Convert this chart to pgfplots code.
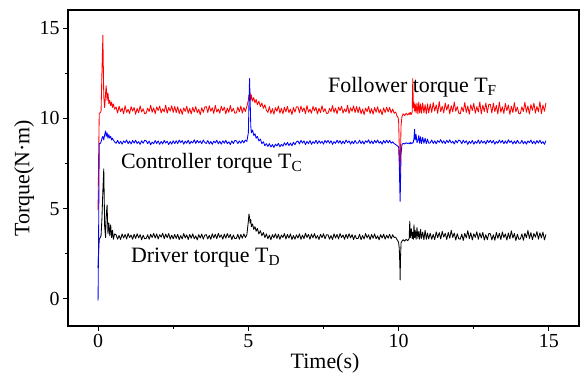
\documentclass[border=0pt]{standalone}
\usepackage{pgfplots}
\pgfplotsset{compat=1.18}
\usepackage{pgfplotstable}
\usepackage{fontspec}
\setmainfont{Liberation Serif}

\pgfplotstableread{
t F C D
0.00 4.9 -0.1 1.7
0.02 8.0 4.0 2.6
0.04 10.3 8.6 3.3
0.07 10.3 8.6 3.4
0.10 10.4 8.7 3.5
0.13 12.6 8.9 4.5
0.16 14.6 9.0 6.0
0.19 11.2 8.8 7.2
0.22 10.6 9.1 4.0
0.25 11.4 9.3 3.4
0.27 11.8 9.0 4.6
0.30 11.0 9.2 5.2
0.33 11.4 8.9 3.6
0.36 10.8 9.1 4.2
0.39 11.0 8.9 3.5
0.42 10.7 9.0 4.1
0.45 10.9 8.8 3.4
0.48 10.6 8.9 3.8
0.51 10.8 8.8 3.3
0.55 10.5 8.7 3.6
0.60 10.63 8.62 3.55
0.65 10.30 8.78 3.31
0.70 10.67 8.59 3.51
0.75 10.37 8.73 3.29
0.80 10.57 8.57 3.60
0.85 10.25 8.75 3.37
0.90 10.70 8.65 3.57
0.95 10.33 8.80 3.32
1.00 10.50 8.60 3.62
1.05 10.27 8.74 3.40
1.10 10.65 8.58 3.54
1.15 10.40 8.77 3.30
1.20 10.60 8.63 3.58
1.25 10.23 8.79 3.35
1.30 10.55 8.61 3.61
1.35 10.31 8.71 3.38
1.40 10.69 8.56 3.56
1.45 10.35 8.76 3.28
1.50 10.53 8.62 3.53
1.55 10.26 8.78 3.33
1.60 10.29 8.76 3.35
1.65 10.56 8.60 3.55
1.70 10.38 8.74 3.30
1.75 10.72 8.54 3.58
1.80 10.34 8.69 3.40
1.85 10.58 8.59 3.63
1.90 10.26 8.77 3.37
1.95 10.63 8.61 3.60
2.00 10.43 8.75 3.32
2.05 10.68 8.56 3.56
2.10 10.30 8.72 3.42
2.15 10.53 8.58 3.64
2.20 10.36 8.78 3.34
2.25 10.73 8.63 3.59
2.30 10.28 8.73 3.39
2.35 10.60 8.55 3.62
2.40 10.40 8.71 3.31
2.45 10.70 8.57 3.53
2.50 10.33 8.76 3.33
2.55 10.66 8.60 3.57
2.60 10.32 8.76 3.35
2.65 10.64 8.60 3.58
2.70 10.26 8.80 3.28
2.75 10.53 8.65 3.51
2.80 10.22 8.77 3.32
2.85 10.58 8.57 3.62
2.90 10.38 8.74 3.38
2.95 10.67 8.62 3.55
3.00 10.28 8.79 3.29
3.05 10.55 8.58 3.57
3.10 10.24 8.73 3.36
3.15 10.61 8.63 3.60
3.20 10.35 8.81 3.33
3.25 10.65 8.61 3.49
3.30 10.31 8.78 3.27
3.35 10.50 8.64 3.56
3.40 10.20 8.75 3.37
3.45 10.59 8.59 3.59
3.50 10.33 8.80 3.31
3.55 10.63 8.66 3.53
3.60 10.65 8.61 3.56
3.65 10.32 8.77 3.32
3.70 10.69 8.58 3.52
3.75 10.39 8.72 3.30
3.80 10.59 8.56 3.61
3.85 10.27 8.74 3.38
3.90 10.72 8.64 3.58
3.95 10.35 8.79 3.33
4.00 10.52 8.59 3.63
4.05 10.29 8.73 3.41
4.10 10.67 8.57 3.55
4.15 10.42 8.76 3.31
4.20 10.62 8.62 3.59
4.25 10.25 8.78 3.36
4.30 10.57 8.60 3.62
4.35 10.33 8.70 3.39
4.40 10.71 8.55 3.57
4.45 10.37 8.75 3.29
4.50 10.55 8.61 3.54
4.55 10.28 8.77 3.34
4.60 10.30 8.76 3.35
4.65 10.62 8.60 3.58
4.70 10.36 8.75 3.30
4.75 10.68 8.62 3.57
4.80 10.29 8.78 3.36
4.85 10.60 8.64 3.60
4.90 10.38 8.80 3.40
4.95 10.66 8.72 3.55
5.00 11.0 9.2 4.3
5.02 11.3 10.8 4.7
5.04 11.1 12.2 4.5
5.06 11.4 11.0 4.2
5.08 11.0 9.6 4.4
5.10 11.3 9.2 4.0
5.14 10.95 9.35 4.15
5.18 11.15 9.05 3.85
5.22 10.85 9.15 4.0
5.26 11.05 8.9 3.75
5.30 10.75 9.0 3.9
5.35 10.95 8.75 3.6
5.40 10.65 8.85 3.78
5.45 10.85 8.6 3.5
5.50 10.55 8.7 3.68
5.55 10.75 8.48 3.4
5.60 10.45 8.6 3.6
5.65 10.33 8.44 3.33
5.70 10.65 8.60 3.53
5.75 10.27 8.41 3.28
5.80 10.54 8.55 3.56
5.85 10.23 8.39 3.38
5.90 10.59 8.57 3.61
5.95 10.39 8.47 3.35
6.00 10.68 8.62 3.58
6.05 10.29 8.42 3.30
6.10 10.56 8.56 3.54
6.15 10.25 8.46 3.40
6.20 10.62 8.65 3.62
6.25 10.36 8.51 3.32
6.30 10.66 8.67 3.57
6.35 10.32 8.49 3.37
6.40 10.51 8.63 3.60
6.45 10.21 8.48 3.29
6.50 10.60 8.68 3.51
6.55 10.34 8.54 3.31
6.60 10.64 8.70 3.55
6.65 10.64 8.74 3.37
6.70 10.31 8.58 3.60
6.75 10.68 8.78 3.30
6.80 10.38 8.63 3.53
6.85 10.58 8.75 3.34
6.90 10.26 8.55 3.64
6.95 10.71 8.72 3.40
7.00 10.34 8.60 3.57
7.05 10.51 8.77 3.31
7.10 10.28 8.56 3.59
7.15 10.66 8.71 3.38
7.20 10.41 8.61 3.62
7.25 10.61 8.79 3.35
7.30 10.24 8.59 3.51
7.35 10.56 8.76 3.29
7.40 10.32 8.62 3.58
7.45 10.70 8.73 3.39
7.50 10.36 8.57 3.61
7.55 10.54 8.78 3.33
7.60 10.27 8.64 3.55
7.65 10.28 8.78 3.55
7.70 10.55 8.62 3.31
7.75 10.37 8.76 3.51
7.80 10.71 8.56 3.29
7.85 10.33 8.71 3.60
7.90 10.57 8.61 3.37
7.95 10.25 8.79 3.57
8.00 10.62 8.63 3.32
8.05 10.42 8.77 3.62
8.10 10.67 8.58 3.40
8.15 10.29 8.74 3.54
8.20 10.52 8.60 3.30
8.25 10.35 8.80 3.58
8.30 10.72 8.65 3.35
8.35 10.27 8.75 3.61
8.40 10.59 8.57 3.38
8.45 10.39 8.73 3.56
8.50 10.69 8.59 3.28
8.55 10.32 8.78 3.53
8.60 10.65 8.62 3.33
8.65 10.31 8.63 3.35
8.70 10.63 8.79 3.58
8.75 10.25 8.60 3.28
8.80 10.52 8.74 3.51
8.85 10.21 8.58 3.32
8.90 10.57 8.76 3.62
8.95 10.37 8.66 3.38
9.00 10.66 8.81 3.55
9.05 10.27 8.61 3.29
9.10 10.54 8.75 3.57
9.15 10.23 8.59 3.36
9.20 10.60 8.78 3.60
9.25 10.34 8.64 3.33
9.30 10.64 8.80 3.49
9.35 10.30 8.62 3.27
9.40 10.49 8.72 3.56
9.45 10.19 8.57 3.37
9.50 10.58 8.77 3.59
9.55 10.32 8.63 3.31
9.60 10.62 8.79 3.53
9.65 10.36 8.64 3.36
9.70 10.60 8.78 3.58
9.75 10.30 8.62 3.33
9.80 10.52 8.70 3.55
9.85 10.28 8.60 3.40
9.90 10.35 8.55 3.42
9.94 10.15 8.50 3.30
9.98 10.05 8.45 3.20
10.00 9.8 8.4 3.1
10.02 8.5 7.5 2.8
10.04 6.5 6.0 1.9
10.05 7.0 5.4 1.05
10.06 8.0 6.3 2.2
10.08 9.6 8.0 3.1
10.11 10.1 8.55 3.2
10.15 10.25 8.62 3.28
10.20 10.15 8.58 3.20
10.25 10.28 8.65 3.30
10.30 10.18 8.60 3.22
10.35 10.30 8.64 3.35
10.37 10.20 8.58 4.3
10.39 10.32 8.66 3.4
10.42 10.22 8.60 3.9
10.45 10.35 8.65 3.35
10.47 12.2 8.62 3.7
10.49 10.6 8.70 3.3
10.51 10.9 8.9 4.1
10.53 10.4 9.4 3.4
10.55 10.8 8.8 3.8
10.58 10.3 9.1 3.3
10.61 10.85 8.65 3.95
10.64 10.25 8.75 3.35
10.67 10.9 9.05 3.75
10.70 10.3 8.62 3.3
10.73 10.8 8.98 3.85
10.76 10.28 8.60 3.35
10.80 10.85 8.95 3.7
10.84 10.3 8.62 3.28
10.88 10.75 8.90 3.8
10.92 10.25 8.60 3.3
10.96 10.8 8.85 3.65
11.00 10.3 8.62 3.32
11.05 10.80 8.64 3.64
11.10 10.33 8.80 3.30
11.15 10.87 8.61 3.58
11.20 10.40 8.75 3.28
11.25 10.75 8.59 3.71
11.30 10.27 8.77 3.39
11.35 10.93 8.67 3.67
11.40 10.37 8.82 3.32
11.45 10.67 8.62 3.74
11.50 10.30 8.76 3.43
11.55 10.85 8.60 3.63
11.60 10.45 8.79 3.29
11.65 10.77 8.65 3.68
11.70 10.25 8.81 3.36
11.75 10.70 8.63 3.80
11.80 10.35 8.73 3.40
11.85 10.90 8.58 3.65
11.90 10.39 8.78 3.26
11.95 10.65 8.64 3.61
12.00 10.28 8.80 3.33
12.05 10.26 8.75 3.31
12.10 10.63 8.59 3.59
12.15 10.37 8.79 3.24
12.20 10.88 8.64 3.63
12.25 10.33 8.76 3.38
12.30 10.68 8.56 3.78
12.35 10.23 8.73 3.34
12.40 10.75 8.61 3.66
12.45 10.43 8.78 3.27
12.50 10.83 8.57 3.61
12.55 10.28 8.72 3.41
12.60 10.65 8.62 3.72
12.65 10.35 8.80 3.30
12.70 10.91 8.60 3.65
12.75 10.25 8.77 3.37
12.80 10.73 8.63 3.69
12.85 10.38 8.74 3.26
12.90 10.85 8.58 3.56
12.95 10.31 8.79 3.28
13.00 10.78 8.65 3.62
13.05 10.77 8.79 3.61
13.10 10.30 8.63 3.27
13.15 10.84 8.77 3.55
13.20 10.37 8.57 3.25
13.25 10.72 8.72 3.68
13.30 10.24 8.62 3.36
13.35 10.90 8.80 3.64
13.40 10.34 8.64 3.29
13.45 10.64 8.78 3.71
13.50 10.27 8.59 3.40
13.55 10.82 8.75 3.60
13.60 10.42 8.61 3.26
13.65 10.74 8.81 3.65
13.70 10.22 8.66 3.33
13.75 10.67 8.76 3.77
13.80 10.32 8.58 3.37
13.85 10.87 8.74 3.62
13.90 10.36 8.60 3.23
13.95 10.62 8.79 3.58
14.00 10.25 8.63 3.30
14.05 10.27 8.62 3.32
14.10 10.64 8.78 3.60
14.15 10.38 8.59 3.25
14.20 10.89 8.73 3.64
14.25 10.34 8.57 3.39
14.30 10.69 8.75 3.79
14.35 10.24 8.65 3.35
14.40 10.76 8.80 3.67
14.45 10.44 8.60 3.28
14.50 10.84 8.74 3.62
14.55 10.29 8.58 3.42
14.60 10.66 8.77 3.73
14.65 10.36 8.63 3.31
14.70 10.92 8.79 3.66
14.75 10.26 8.61 3.38
14.80 10.74 8.71 3.70
14.85 10.39 8.56 3.27
14.90 10.86 8.76 3.57
}\torque

\begin{document}
\begin{tikzpicture}
\begin{axis}[
  name=ax,
  scale only axis,
  width=511bp, height=316bp,
  xmin=-1, xmax=16, ymin=-1.5, ymax=16,
  xtick={0,5,10,15}, ytick={0,5,10,15},
  xticklabels={0,5,10,15}, yticklabels={0,5,10,15},
  minor x tick num=1, minor y tick num=1,
  xtick pos=lower, ytick pos=left,
  tick align=outside,
  major tick length=5bp, minor tick length=3bp,
  axis line style={line width=1.3bp},
  every tick/.style={line width=1.1bp, black},
  /pgf/number format/assume math mode=true,
  tick label style={font=\fontsize{20}{24}\selectfont},
  xlabel={Time(s)}, ylabel={Torque(N·m)},
  label style={font=\fontsize{22}{26}\selectfont},
  xlabel style={at={(axis description cs:0.503,-0.133)}, anchor=base},
  ylabel style={at={(axis description cs:-0.086,0.468)}, anchor=center, rotate=0},
  clip=true,
]
\addplot[black, line width=0.85pt, line join=round] table[x=t, y=D] {\torque};
\addplot[red, line width=0.85pt, line join=round] table[x=t, y=F] {\torque};
\addplot[blue, line width=0.85pt, line join=round] table[x=t, y=C] {\torque};
\node[anchor=base west, font=\fontsize{22}{26}\selectfont, inner sep=0pt] at (axis cs:7.65,11.44) {Follower torque T\textsubscript{F}};
\node[anchor=base west, font=\fontsize{22}{26}\selectfont, inner sep=0pt] at (axis cs:0.76,7.22) {Controller torque T\textsubscript{C}};
\node[anchor=base west, font=\fontsize{22}{26}\selectfont, inner sep=0pt] at (axis cs:1.09,2.0) {Driver torque T\textsubscript{D}};
\end{axis}
\pgfresetboundingbox
\path[use as bounding box] ([shift={(-68bp,-50bp)}]ax.south west) rectangle ([shift={(5bp,10bp)}]ax.north east);
\end{tikzpicture}
\end{document}
